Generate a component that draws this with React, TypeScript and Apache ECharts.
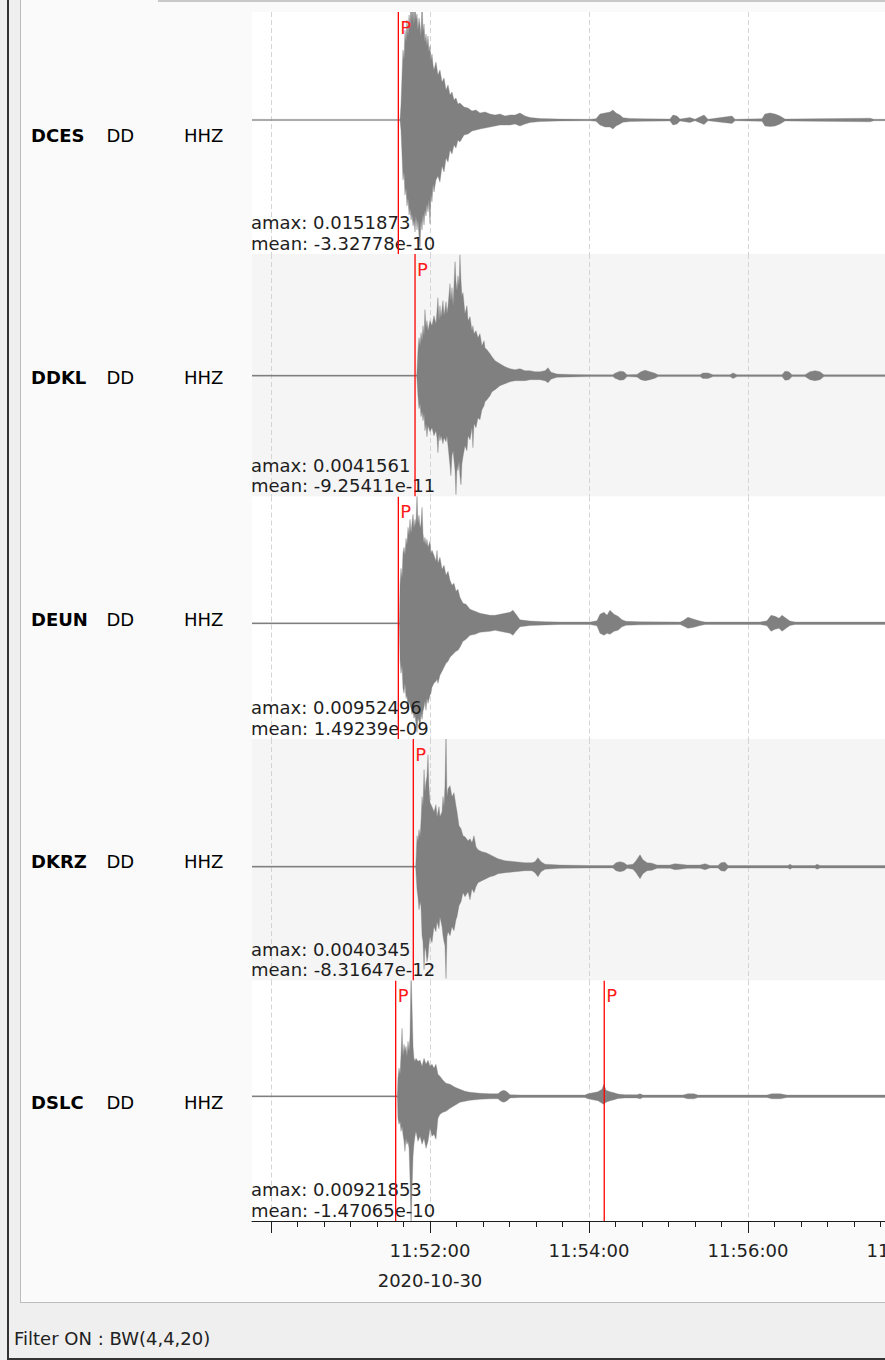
import React, { useEffect, useRef } from 'react';
import * as echarts from 'echarts';

// ---------- data ----------
const stations = ['DCES', 'DDKL', 'DEUN', 'DKRZ', 'DSLC'];
const networks = ['DD', 'DD', 'DD', 'DD', 'DD'];
const channels = ['HHZ', 'HHZ', 'HHZ', 'HHZ', 'HHZ'];
const amaxValues = ['0.0151873', '0.0041561', '0.00952496', '0.0040345', '0.00921853'];
const meanValues = ['-3.32778e-10', '-9.25411e-11', '1.49239e-09', '-8.31647e-12', '-1.47065e-10'];

// time axis: seconds after 11:50:00 on 2020-10-30
const dateLabel = '2020-10-30';
const baseHour = 11;
const baseMinute = 50;
const timeMin = -14.34;
const timeMax = 520;
const majorTicks = [0, 120, 240, 360, 480];
const labelTicks = [120, 240, 360, 480];
const minorTicks = [20, 40, 60, 80, 100, 140, 160, 180, 200, 220, 260, 280, 300, 320, 340, 380, 400, 420, 440, 460, 500, 520];

// P picks (seconds after 11:50:00)
const pickTimes = [[96.1], [108.7], [96.1], [107.4], [94.1, 251.5]];

// relative amplitude range shown in each trace [low, high]
const yRanges = [
  [-1.34, 1.08],
  [-1.208, 1.217],
  [-1.157, 1.268],
  [-1.138, 1.277],
  [-1.247, 1.158],
];

// waveform envelopes: [time (s), upper amplitude, lower amplitude]
const dcesEnv = [
  [-15, 0.006, -0.006], [97.4, 0.006, -0.006], [98.1, 0.15, -0.1], [98.9, 0.45, -0.35], [99.6, 0.7, -0.6],
  [100.4, 0.6, -0.52], [101.1, 0.9, -0.75], [101.9, 0.78, -0.68], [102.6, 1.0, -0.86], [103.4, 0.84, -0.78],
  [104.2, 1.05, -0.95], [104.9, 0.93, -0.88], [105.7, 1.2, -1.0], [106.4, 0.98, -0.94], [107.2, 1.2, -1.06],
  [107.9, 0.95, -1.0], [108.7, 1.2, -1.12], [109.4, 1.0, -0.96], [110.2, 1.06, -1.1], [110.9, 0.9, -1.0],
  [111.7, 1.02, -1.16], [112.5, 0.94, -1.27], [113.2, 0.84, -1.0], [114.0, 1.2, -1.1], [114.7, 0.88, -0.94],
  [115.5, 0.96, -1.05], [116.2, 0.78, -0.9], [117.0, 0.86, -0.96], [117.7, 0.74, -0.84], [118.5, 0.84, -0.92],
  [119.2, 0.68, -0.8], [120.0, 0.74, -1.04], [120.7, 0.6, -0.74], [121.5, 0.66, -0.82], [122.3, 0.55, -0.64],
  [123.0, 0.5, -0.72], [124.5, 0.58, -0.6], [126.0, 0.45, -0.56], [127.5, 0.5, -0.62], [129.1, 0.38, -0.46],
  [130.6, 0.42, -0.52], [132.1, 0.3, -0.38], [133.6, 0.35, -0.42], [135.1, 0.25, -0.3], [136.6, 0.28, -0.34],
  [138.1, 0.2, -0.25], [139.6, 0.22, -0.28], [141.1, 0.16, -0.2], [142.6, 0.17, -0.22], [145.7, 0.13, -0.15],
  [148.7, 0.12, -0.14], [151.7, 0.09, -0.11], [154.7, 0.1, -0.1], [157.7, 0.07, -0.09], [161.5, 0.08, -0.08],
  [165.3, 0.06, -0.07], [169.1, 0.05, -0.06], [172.8, 0.06, -0.05], [176.6, 0.04, -0.05], [180.4, 0.05, -0.05],
  [184.2, 0.05, -0.04], [187.9, 0.07, -0.06], [191.7, 0.04, -0.04], [195.5, 0.025, -0.025], [203.0, 0.014, -0.016],
  [218.1, 0.009, -0.009], [240.8, 0.007, -0.007], [245.3, 0.013, -0.013], [248.3, 0.06, -0.05], [252.1, 0.07, -0.07],
  [255.8, 0.08, -0.07], [258.1, 0.1, -0.09], [260.4, 0.07, -0.06], [263.4, 0.05, -0.04], [265.7, 0.022, -0.022],
  [270.9, 0.016, -0.016], [280.8, 0.012, -0.012], [301.1, 0.009, -0.009], [303.4, 0.05, -0.05], [306.4, 0.04, -0.04],
  [308.7, 0.009, -0.009], [316.2, 0.025, -0.025], [320.0, 0.007, -0.007], [326.8, 0.05, -0.045], [329.8, 0.007, -0.007],
  [347.9, 0.04, -0.035], [350.2, 0.007, -0.007], [370.6, 0.013, -0.013], [372.8, 0.06, -0.06], [376.6, 0.07, -0.065],
  [380.4, 0.06, -0.06], [384.2, 0.04, -0.04], [387.9, 0.009, -0.009], [452.1, 0.018, -0.018], [455, 0.007, -0.007],
  [480, 0.007, -0.007],
];

const ddklEnv = [
  [-15, 0.006, -0.006], [110.0, 0.006, -0.006], [110.2, 0.05, -0.04], [110.9, 0.25, -0.2], [111.7, 0.38, -0.33],
  [112.5, 0.3, -0.28], [113.2, 0.43, -0.41], [114.0, 0.35, -0.35], [114.7, 0.5, -0.45], [115.5, 0.4, -0.38],
  [116.2, 0.66, -0.55], [117.0, 0.48, -0.48], [117.7, 0.55, -0.61], [118.5, 0.45, -0.5], [120.0, 0.55, -0.56],
  [121.5, 0.5, -0.52], [123.0, 0.6, -0.6], [124.5, 0.52, -0.55], [125.3, 0.65, -0.62], [126.0, 0.78, -0.77],
  [126.8, 0.55, -0.58], [127.5, 0.7, -0.65], [128.3, 0.58, -0.6], [129.8, 0.75, -0.68], [130.6, 0.6, -0.62],
  [132.1, 0.74, -0.66], [132.8, 0.62, -0.6], [133.6, 0.7, -0.7], [135.1, 0.92, -0.9], [135.8, 0.75, -1.0],
  [136.6, 0.88, -0.8], [137.4, 0.7, -0.75], [138.9, 1.14, -0.95], [139.6, 0.95, -1.19], [140.4, 0.85, -0.9],
  [141.1, 1.0, -0.95], [141.9, 0.9, -0.85], [142.6, 1.21, -1.0], [143.4, 0.95, -1.09], [144.1, 0.8, -0.88],
  [144.9, 0.83, -0.81], [146.4, 0.62, -0.7], [147.9, 0.7, -0.75], [148.7, 0.55, -0.6], [150.2, 0.59, -0.64],
  [151.7, 0.45, -0.52], [152.4, 0.5, -0.72], [153.2, 0.42, -0.48], [154.7, 0.45, -0.52], [156.2, 0.38, -0.42],
  [157.7, 0.42, -0.44], [159.2, 0.3, -0.34], [160.8, 0.35, -0.3], [161.5, 0.28, -0.26], [163.0, 0.26, -0.24],
  [165.3, 0.22, -0.2], [166.8, 0.19, -0.16], [169.1, 0.15, -0.14], [172.8, 0.12, -0.1], [176.6, 0.09, -0.08],
  [180.4, 0.07, -0.06], [184.2, 0.06, -0.05], [187.9, 0.07, -0.05], [191.7, 0.05, -0.05], [195.5, 0.05, -0.04],
  [199.2, 0.04, -0.04], [203.0, 0.04, -0.04], [206.8, 0.05, -0.05], [209.1, 0.08, -0.07], [211.3, 0.035, -0.035],
  [215.8, 0.016, -0.016], [225.7, 0.012, -0.012], [240.8, 0.009, -0.009], [258.1, 0.009, -0.009], [259.6, 0.025, -0.025],
  [263.4, 0.045, -0.045], [266.4, 0.04, -0.04], [268.7, 0.009, -0.009], [276.2, 0.013, -0.013], [279.2, 0.04, -0.04],
  [282.3, 0.055, -0.05], [286.0, 0.04, -0.04], [289.8, 0.025, -0.025], [292.1, 0.009, -0.009], [323.8, 0.009, -0.009],
  [326.0, 0.028, -0.028], [329.8, 0.028, -0.028], [333.6, 0.009, -0.009], [346.4, 0.009, -0.009], [348.7, 0.028, -0.028],
  [351.7, 0.009, -0.009], [385.7, 0.009, -0.009], [387.9, 0.045, -0.045], [390.9, 0.04, -0.04], [393.2, 0.009, -0.009],
  [403.0, 0.009, -0.009], [406.8, 0.04, -0.04], [410.6, 0.05, -0.05], [414.3, 0.04, -0.04], [417.3, 0.009, -0.009],
  [480, 0.009, -0.009],
];

const deunEnv = [
  [-15, 0.006, -0.006], [96.8, 0.006, -0.006], [97.0, 0.05, -0.05], [97.4, 0.39, -0.37], [98.1, 0.55, -0.5],
  [98.9, 0.45, -0.42], [99.6, 0.7, -0.65], [100.4, 0.76, -0.7], [101.1, 0.68, -0.6], [101.9, 0.85, -0.75],
  [102.6, 0.78, -0.72], [103.4, 0.96, -0.84], [104.2, 0.88, -0.78], [104.9, 1.04, -0.82], [105.7, 0.9, -0.85],
  [106.4, 1.0, -0.91], [107.2, 1.09, -0.88], [107.9, 0.95, -0.95], [108.7, 1.04, -0.92], [109.4, 0.98, -1.0],
  [110.2, 1.3, -1.09], [110.9, 1.0, -0.95], [111.7, 1.08, -0.98], [112.5, 0.95, -1.04], [113.2, 1.0, -0.9],
  [114.0, 1.16, -0.96], [114.7, 0.9, -0.88], [115.5, 0.8, -0.84], [116.2, 0.86, -0.78], [117.0, 0.78, -0.87],
  [117.7, 0.84, -0.75], [118.5, 0.76, -0.8], [120.0, 0.82, -0.72], [120.7, 0.7, -0.7], [121.5, 0.73, -0.64],
  [123.0, 0.68, -0.6], [124.5, 0.62, -0.58], [125.3, 0.73, -0.56], [126.0, 0.6, -0.6], [127.5, 0.66, -0.52],
  [129.1, 0.54, -0.48], [130.6, 0.58, -0.44], [132.1, 0.48, -0.4], [133.6, 0.52, -0.38], [135.1, 0.43, -0.34],
  [136.6, 0.38, -0.32], [138.1, 0.4, -0.3], [139.6, 0.32, -0.28], [141.1, 0.34, -0.27], [142.6, 0.26, -0.24],
  [144.9, 0.2, -0.18], [147.2, 0.19, -0.16], [150.2, 0.14, -0.12], [154.0, 0.12, -0.11], [157.7, 0.1, -0.09],
  [161.5, 0.09, -0.085], [165.3, 0.08, -0.08], [169.1, 0.08, -0.07], [172.8, 0.09, -0.08], [176.6, 0.1, -0.09],
  [180.4, 0.11, -0.1], [182.6, 0.13, -0.12], [184.9, 0.09, -0.08], [187.9, 0.035, -0.035], [195.5, 0.022, -0.022],
  [206.8, 0.016, -0.016], [218.1, 0.012, -0.012], [240.8, 0.012, -0.012], [246.0, 0.025, -0.025], [248.3, 0.09, -0.1],
  [251.3, 0.11, -0.12], [253.6, 0.08, -0.1], [255.8, 0.13, -0.11], [258.9, 0.09, -0.08], [261.9, 0.07, -0.07],
  [264.9, 0.035, -0.035], [267.9, 0.02, -0.02], [278.5, 0.015, -0.015], [308.7, 0.012, -0.012], [310.9, 0.025, -0.025],
  [314.7, 0.06, -0.05], [319.2, 0.04, -0.04], [323.8, 0.022, -0.022], [327.6, 0.012, -0.012], [369.1, 0.012, -0.012],
  [374.3, 0.025, -0.025], [377.4, 0.08, -0.08], [380.4, 0.07, -0.06], [383.4, 0.05, -0.05], [385.7, 0.08, -0.08],
  [388.7, 0.05, -0.05], [391.7, 0.022, -0.022], [395.5, 0.012, -0.012], [480, 0.012, -0.012],
];

const dkrzEnv = [
  [-15, 0.006, -0.006], [109.2, 0.006, -0.006], [109.4, 0.05, -0.05], [110.2, 0.31, -0.23], [110.9, 0.25, -0.3],
  [111.7, 0.37, -0.43], [112.5, 0.3, -0.35], [113.2, 0.45, -0.4], [114.0, 0.7, -0.69], [114.7, 0.6, -0.75],
  [115.5, 0.97, -1.03], [116.2, 0.75, -0.8], [117.0, 0.85, -0.85], [117.7, 0.9, -0.95], [118.5, 1.12, -0.9],
  [119.2, 0.8, -0.78], [120.0, 0.64, -0.7], [121.5, 0.6, -0.76], [123.0, 0.55, -0.6], [124.5, 0.62, -0.65],
  [125.3, 0.5, -0.55], [126.8, 0.6, -0.62], [127.5, 0.5, -0.5], [129.1, 0.55, -0.6], [129.8, 0.7, -0.69],
  [130.6, 0.6, -0.75], [131.3, 0.81, -0.79], [132.1, 1.35, -1.12], [132.8, 0.7, -0.7], [133.6, 0.78, -0.65],
  [135.1, 0.81, -0.69], [136.6, 0.7, -0.6], [138.1, 0.74, -0.64], [139.6, 0.61, -0.53], [140.4, 0.55, -0.5],
  [141.9, 0.41, -0.39], [143.4, 0.38, -0.35], [144.9, 0.31, -0.26], [146.4, 0.3, -0.3], [148.7, 0.26, -0.25],
  [150.2, 0.28, -0.33], [151.7, 0.24, -0.22], [153.2, 0.31, -0.26], [154.7, 0.2, -0.2], [156.2, 0.17, -0.16],
  [159.2, 0.15, -0.14], [162.3, 0.14, -0.12], [165.3, 0.12, -0.1], [168.3, 0.1, -0.09], [171.3, 0.08, -0.07],
  [176.6, 0.06, -0.06], [184.2, 0.05, -0.05], [191.7, 0.04, -0.04], [197.0, 0.04, -0.04], [199.2, 0.05, -0.06],
  [201.5, 0.09, -0.1], [203.8, 0.05, -0.05], [206.8, 0.025, -0.025], [218.1, 0.016, -0.016], [240.8, 0.012, -0.012],
  [258.1, 0.012, -0.012], [260.4, 0.04, -0.04], [263.4, 0.05, -0.05], [266.4, 0.04, -0.04], [268.7, 0.016, -0.016],
  [273.2, 0.025, -0.025], [275.5, 0.06, -0.06], [278.5, 0.12, -0.12], [280.7, 0.07, -0.07], [283.8, 0.04, -0.04],
  [287.5, 0.035, -0.035], [291.3, 0.016, -0.016], [301.1, 0.016, -0.016], [304.9, 0.03, -0.03], [308.7, 0.025, -0.025],
  [314.0, 0.016, -0.016], [323.8, 0.016, -0.016], [327.6, 0.03, -0.03], [331.3, 0.012, -0.012], [337.4, 0.012, -0.012],
  [339.6, 0.04, -0.04], [342.6, 0.045, -0.045], [344.9, 0.012, -0.012], [390.2, 0.012, -0.012], [391.7, 0.025, -0.025],
  [393.2, 0.012, -0.012], [410.6, 0.012, -0.012], [412.1, 0.025, -0.025], [414.3, 0.012, -0.012], [480, 0.012, -0.012],
];

const dslcEnv = [
  [-15, 0.006, -0.006], [95.3, 0.006, -0.006], [95.5, 0.05, -0.05], [95.8, 0.18, -0.22], [96.6, 0.28, -0.28],
  [97.4, 0.22, -0.25], [98.1, 0.41, -0.35], [98.9, 0.68, -0.3], [99.6, 0.4, -0.38], [100.4, 0.52, -0.45],
  [101.1, 0.45, -0.55], [101.9, 0.5, -0.42], [102.6, 0.4, -0.48], [103.4, 0.55, -0.45], [104.2, 0.45, -0.52],
  [104.9, 0.6, -0.82], [105.7, 1.25, -1.3], [106.4, 0.92, -0.95], [107.2, 0.5, -0.6], [107.9, 0.38, -0.48],
  [108.7, 0.35, -0.4], [109.4, 0.38, -0.35], [110.9, 0.35, -0.45], [112.5, 0.36, -0.4], [114.0, 0.3, -0.48],
  [115.5, 0.38, -0.42], [117.0, 0.32, -0.52], [118.5, 0.36, -0.45], [120.0, 0.3, -0.32], [121.5, 0.32, -0.4],
  [123.0, 0.28, -0.38], [124.5, 0.32, -0.43], [126.0, 0.22, -0.22], [127.5, 0.2, -0.18], [129.8, 0.16, -0.16],
  [132.1, 0.13, -0.15], [135.1, 0.12, -0.12], [138.9, 0.09, -0.09], [142.6, 0.07, -0.06], [146.4, 0.05, -0.05],
  [150.2, 0.04, -0.04], [157.7, 0.03, -0.03], [165.3, 0.025, -0.025], [171.3, 0.025, -0.025], [173.6, 0.05, -0.05],
  [175.8, 0.06, -0.06], [178.1, 0.045, -0.045], [180.4, 0.016, -0.016], [187.9, 0.012, -0.012], [237.0, 0.012, -0.012],
  [239.2, 0.025, -0.025], [243.0, 0.035, -0.035], [246.8, 0.045, -0.045], [249.8, 0.07, -0.07], [251.3, 0.12, -0.08],
  [252.8, 0.06, -0.06], [255.8, 0.045, -0.045], [258.9, 0.035, -0.035], [261.9, 0.022, -0.022], [267.2, 0.016, -0.016],
  [276.2, 0.016, -0.016], [278.5, 0.025, -0.025], [280.7, 0.012, -0.012], [310.9, 0.012, -0.012], [314.7, 0.025, -0.025],
  [319.2, 0.025, -0.025], [322.2, 0.012, -0.012], [374.3, 0.012, -0.012], [378.1, 0.025, -0.025], [384.2, 0.025, -0.025],
  [389.4, 0.012, -0.012], [480, 0.012, -0.012],
];

const envelopes = [dcesEnv, ddklEnv, deunEnv, dkrzEnv, dslcEnv];
const filterText = 'Filter ON : BW(4,4,20)';

// ---------- layout ----------
const FONT = 'DejaVu Sans';
const GRID_TOPS = [12, 254, 496.5, 739, 980.5];
const GRID_BOTTOMS = [254, 496.5, 739, 980.5, 1221];
const PLOT_LEFT = 252;
const PLOT_WIDTH = 708;
const WAVE = '#808080';
const INK = '#1e1e1e';

function fmtTime(v: number): string {
  const total = baseMinute * 60 + Math.round(v);
  const m = Math.floor(total / 60);
  const s = total % 60;
  const h = baseHour + Math.floor(m / 60);
  return `${h}:${String(m % 60).padStart(2, '0')}:${String(s).padStart(2, '0')}`;
}

function textEl(text: string, x: number, y: number, extra: any = {}) {
  return {
    type: 'text',
    x,
    y,
    z: extra.z != null ? extra.z : 1,
    silent: true,
    style: {
      text,
      fill: extra.fill || INK,
      fontSize: extra.fontSize || 18,
      fontFamily: FONT,
      fontWeight: extra.fontWeight || 'normal',
      align: extra.align || 'left',
      textAlign: extra.align || 'left',
      verticalAlign: 'middle',
      textVerticalAlign: 'middle',
    },
  };
}

export default function App() {
  const ref = useRef<HTMLDivElement>(null);

  useEffect(() => {
    if (!ref.current) return;
    const chart = echarts.init(ref.current, null, { renderer: 'svg' });

    const grid = GRID_TOPS.map((top, i) => ({
      left: PLOT_LEFT,
      top,
      width: PLOT_WIDTH,
      height: GRID_BOTTOMS[i] - top,
      show: true,
      backgroundColor: i % 2 === 1 ? '#f5f5f5' : '#ffffff',
      borderWidth: 0,
    }));

    const xAxis: any[] = GRID_TOPS.map((_, i) => ({
      type: 'value',
      gridIndex: i,
      min: timeMin,
      max: timeMax,
      position: 'bottom',
      z: 1,
      axisLine: { show: i === 4, onZero: false, lineStyle: { color: INK, width: 1 } },
      axisTick: {
        show: i === 4,
        customValues: majorTicks,
        length: 12,
        lineStyle: { color: INK, width: 1 },
      },
      axisLabel: {
        show: i === 4,
        customValues: labelTicks,
        formatter: (v: number) => fmtTime(v),
        fontFamily: FONT,
        fontSize: 18,
        color: '#222222',
        margin: 20,
      },
      splitLine: { show: true, lineStyle: { color: '#d4d4d4', width: 1, type: [5, 3] } },
    }));
    xAxis.push({
      type: 'value',
      gridIndex: 4,
      min: timeMin,
      max: timeMax,
      position: 'bottom',
      z: 1,
      axisLine: { show: false, onZero: false },
      axisTick: { show: true, customValues: minorTicks, length: 6, lineStyle: { color: INK, width: 1 } },
      axisLabel: { show: false },
      splitLine: { show: false },
    });

    const yAxis = yRanges.map((r, i) => ({
      type: 'value',
      gridIndex: i,
      min: r[0],
      max: r[1],
      show: false,
      splitLine: { show: false },
    }));

    const series: any[] = [];
    envelopes.forEach((env, i) => {
      series.push({
        type: 'custom',
        name: stations[i],
        xAxisIndex: i,
        yAxisIndex: i,
        data: env,
        encode: { x: 0, y: [1, 2] },
        clip: true,
        silent: true,
        z: 2,
        renderItem: (params: any, api: any) => {
          if (params.dataIndex !== 0) return null;
          const pts: number[][] = [];
          for (let k = 0; k < env.length; k++) pts.push(api.coord([env[k][0], env[k][1]]));
          for (let k = env.length - 1; k >= 0; k--) pts.push(api.coord([env[k][0], env[k][2]]));
          return {
            type: 'polygon',
            shape: { points: pts },
            style: { fill: WAVE, stroke: WAVE, lineWidth: 0.35 },
          };
        },
      });
      series.push({
        type: 'custom',
        name: stations[i] + ' picks',
        xAxisIndex: i,
        yAxisIndex: i,
        data: pickTimes[i].map((t) => [t, 0]),
        encode: { x: 0, y: 1 },
        clip: true,
        silent: true,
        z: 4,
        renderItem: (params: any, api: any) => {
          const cs = params.coordSys;
          const x = api.coord([api.value(0), 0])[0];
          return {
            type: 'group',
            children: [
              {
                type: 'line',
                shape: { x1: x, y1: cs.y, x2: x, y2: cs.y + cs.height },
                style: { stroke: '#ff0000', lineWidth: 1.3 },
              },
              {
                type: 'text',
                x: x + 2,
                y: cs.y + 15,
                style: {
                  text: 'P',
                  fill: '#ff1a1a',
                  fontSize: 18,
                  fontFamily: FONT,
                  align: 'left',
                  textAlign: 'left',
                  verticalAlign: 'middle',
                  textVerticalAlign: 'middle',
                },
              },
            ],
          };
        },
      });
    });

    const graphics: any[] = [];
    GRID_TOPS.forEach((top, i) => {
      const bottom = GRID_BOTTOMS[i];
      const mid = (top + bottom) / 2 + 2;
      graphics.push(textEl(stations[i], 31, mid, { fontWeight: 'bold', fill: '#000000' }));
      graphics.push(textEl(networks[i], 106.5, mid, { fill: '#000000' }));
      graphics.push(textEl(channels[i], 184, mid, { fill: '#000000' }));
      graphics.push(textEl('amax: ' + amaxValues[i], 251, bottom - 31.3, { z: 3 }));
      graphics.push(textEl('mean: ' + meanValues[i], 251, bottom - 10.7, { z: 3 }));
    });
    graphics.push(textEl(dateLabel, 430, 1280, { align: 'center', fill: '#222222' }));
    graphics.push(textEl(filterText, 14, 1338.5, { fill: '#222222' }));

    chart.setOption({
      animation: false,
      backgroundColor: 'transparent',
      textStyle: { fontFamily: FONT },
      grid,
      xAxis,
      yAxis,
      series,
      graphic: { elements: graphics },
    });

    return () => chart.dispose();
  }, []);

  return (
    <div
      style={{
        position: 'absolute',
        left: 0,
        top: 0,
        width: 885,
        height: 1360,
        overflow: 'hidden',
        background: '#efefef',
      }}
    >
      <div style={{ position: 'absolute', left: 7, top: 0, width: 2, height: 1360, background: '#333333' }} />
      <div
        style={{
          position: 'absolute',
          left: 20,
          top: -2,
          width: 900,
          height: 1305,
          boxSizing: 'border-box',
          background: '#fafafa',
          borderLeft: '1px solid #bdbdbd',
          borderBottom: '1px solid #bdbdbd',
        }}
      />
      <div style={{ position: 'absolute', left: 158, top: 0, width: 800, height: 2, background: '#c8c8c8' }} />
      <div style={{ position: 'absolute', left: 7, top: 1358, width: 900, height: 2, background: '#333333' }} />
      <div ref={ref} style={{ position: 'absolute', left: 0, top: 0, width: 1000, height: 1360 }} />
    </div>
  );
}
